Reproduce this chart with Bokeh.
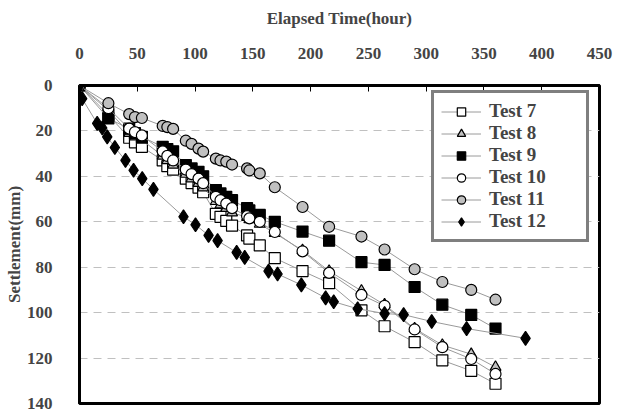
from bokeh.plotting import figure
from bokeh.models import Range1d, Legend, LegendItem, FixedTicker
from bokeh.embed import file_html
from bokeh.resources import INLINE

# ---- data ----
hours = [0, 25, 43, 48, 54, 72, 76, 81, 92, 97, 103, 107, 118, 122, 127, 132,
         145, 147, 156, 169, 193, 216, 244, 264, 290, 314, 339, 360]
test7 = [0, 13, 23, 25, 27, 33, 35.5, 37, 41, 43, 45, 47, 56.5, 57.8, 59.6, 61.7,
         66, 67.4, 70.4, 76, 81.7, 87, 99, 106, 113, 121, 125.6, 131.3]
test8 = [0, 11, 21, 22.5, 24, 31, 33, 35, 39, 41, 43, 45, 51, 52.5, 54, 56,
         58, 59, 61, 65, 72.6, 81.7, 90.4, 96.5, 107, 114.3, 118.3, 124]
test9 = [0, 14.5, 19, 21, 22.6, 27, 28, 29, 35, 36.5, 38, 40, 46, 47.5, 49, 50.5,
         54, 55, 57, 60, 64.3, 68.3, 77.8, 79, 88.7, 96.5, 101, 107]
test10 = [0, 10, 19, 20.5, 22, 29, 31, 33, 37, 39, 41, 43, 49, 50.5, 52, 54,
          57.5, 58.5, 60, 64.5, 73, 82.5, 92.2, 97, 107.4, 115.2, 120.4, 127]
test11 = [0, 7.8, 12.6, 13.9, 14.3, 17.8, 18.3, 19.1, 24.3, 25.7, 27.8, 29.1, 32.2, 33, 33.5, 34.8,
          36.5, 37.4, 38.7, 44.8, 53.5, 62.2, 66.5, 72.2, 80.9, 86.5, 90, 94.3]
hours12 = [0, 2.3, 15.3, 19.7, 24, 30.6, 39.8, 46.8, 54.3, 64, 90, 100.4, 111.7, 119.5, 136, 143,
           163.6, 171.4, 192, 213, 220, 240.7, 264, 280.5, 304.8, 335, 386]
test12 = [0, 5.8, 16.7, 18.7, 22.6, 27.3, 33, 37.3, 41, 45.7, 57.8, 61.3, 66, 68.3, 73.5, 75.7,
          81.7, 83, 87.8, 93.5, 95.2, 98.3, 100.4, 100.9, 103.9, 107, 111.3]

x_ticks = [0, 50, 100, 150, 200, 250, 300, 350, 400, 450]
y_ticks = [0, 20, 40, 60, 80, 100, 120, 140]

FONT = "Liberation Serif"
GRAY = "#c0c0c0"

p = figure(width=624, height=412, output_backend="svg", toolbar_location=None,
           x_range=Range1d(0, 450), y_range=Range1d(140, 0),
           x_axis_location="above",
           min_border_left=79, min_border_right=25, min_border_top=85, min_border_bottom=9,
           background_fill_color="white", border_fill_color="white")

p.outline_line_color = "black"
p.outline_line_width = 3
p.outline_line_alpha = 1

# axes
xa = p.xaxis[0]
xa.ticker = FixedTicker(ticks=x_ticks)
xa.axis_label = "Elapsed Time(hour)"
xa.axis_label_text_font = FONT
xa.axis_label_text_font_style = "bold"
xa.axis_label_text_font_size = "17px"
xa.axis_label_standoff = 17
xa.major_label_text_font = FONT
xa.major_label_text_font_style = "bold"
xa.major_label_text_font_size = "17px"
xa.major_label_standoff = 27
xa.major_tick_in = 6
xa.major_tick_out = 0
xa.minor_tick_in = 0
xa.minor_tick_out = 0
xa.axis_line_width = 3
xa.axis_line_color = "black"
xa.major_tick_line_width = 1

ya = p.yaxis[0]
ya.ticker = FixedTicker(ticks=y_ticks)
ya.axis_label = "Settlement(mm)"
ya.axis_label_text_font = FONT
ya.axis_label_text_font_style = "bold"
ya.axis_label_text_font_size = "17px"
ya.axis_label_standoff = 0
ya.major_label_text_font = FONT
ya.major_label_text_font_style = "bold"
ya.major_label_text_font_size = "17px"
ya.major_label_standoff = 27
ya.major_tick_in = 0
ya.major_tick_out = 0
ya.minor_tick_in = 0
ya.minor_tick_out = 0
ya.axis_line_width = 3
ya.axis_line_color = "black"

p.xgrid.grid_line_color = None
p.ygrid.grid_line_color = GRAY
p.ygrid.grid_line_dash = "8 6"
p.ygrid.grid_line_width = 1
p.ygrid.ticker = FixedTicker(ticks=y_ticks)

series = [
    ("Test 7", hours, test7, "square", "white"),
    ("Test 8", hours, test8, "triangle", GRAY),
    ("Test 9", hours, test9, "square", "black"),
    ("Test 10", hours, test10, "circle", "white"),
    ("Test 11", hours, test11, "circle", GRAY),
    ("Test 12", hours12, test12, "diamond", "black"),
]

items = []
for name, xs, ys, marker, fill in series:
    ln = p.line(xs, ys, line_color="#9a9a9a", line_width=1)
    size = 14 if marker == "diamond" else 11
    sc = p.scatter(xs, ys, marker=marker, size=size, fill_color=fill,
                   line_color="black", line_width=1.2)
    items.append(LegendItem(label=name, renderers=[ln, sc]))

legend = Legend(items=items, location=(352, 161))
legend.label_text_font = FONT
legend.label_text_font_style = "bold"
legend.label_text_font_size = "19px"
legend.border_line_color = "black"
legend.border_line_width = 3
legend.background_fill_color = "white"
legend.background_fill_alpha = 1
legend.padding = 7
legend.spacing = 0
legend.glyph_width = 40
legend.glyph_height = 21
legend.label_height = 21
legend.label_width = 90
legend.label_standoff = 8
legend.margin = 0
p.add_layout(legend)

open("out.html", "w").write(file_html(p, INLINE))
